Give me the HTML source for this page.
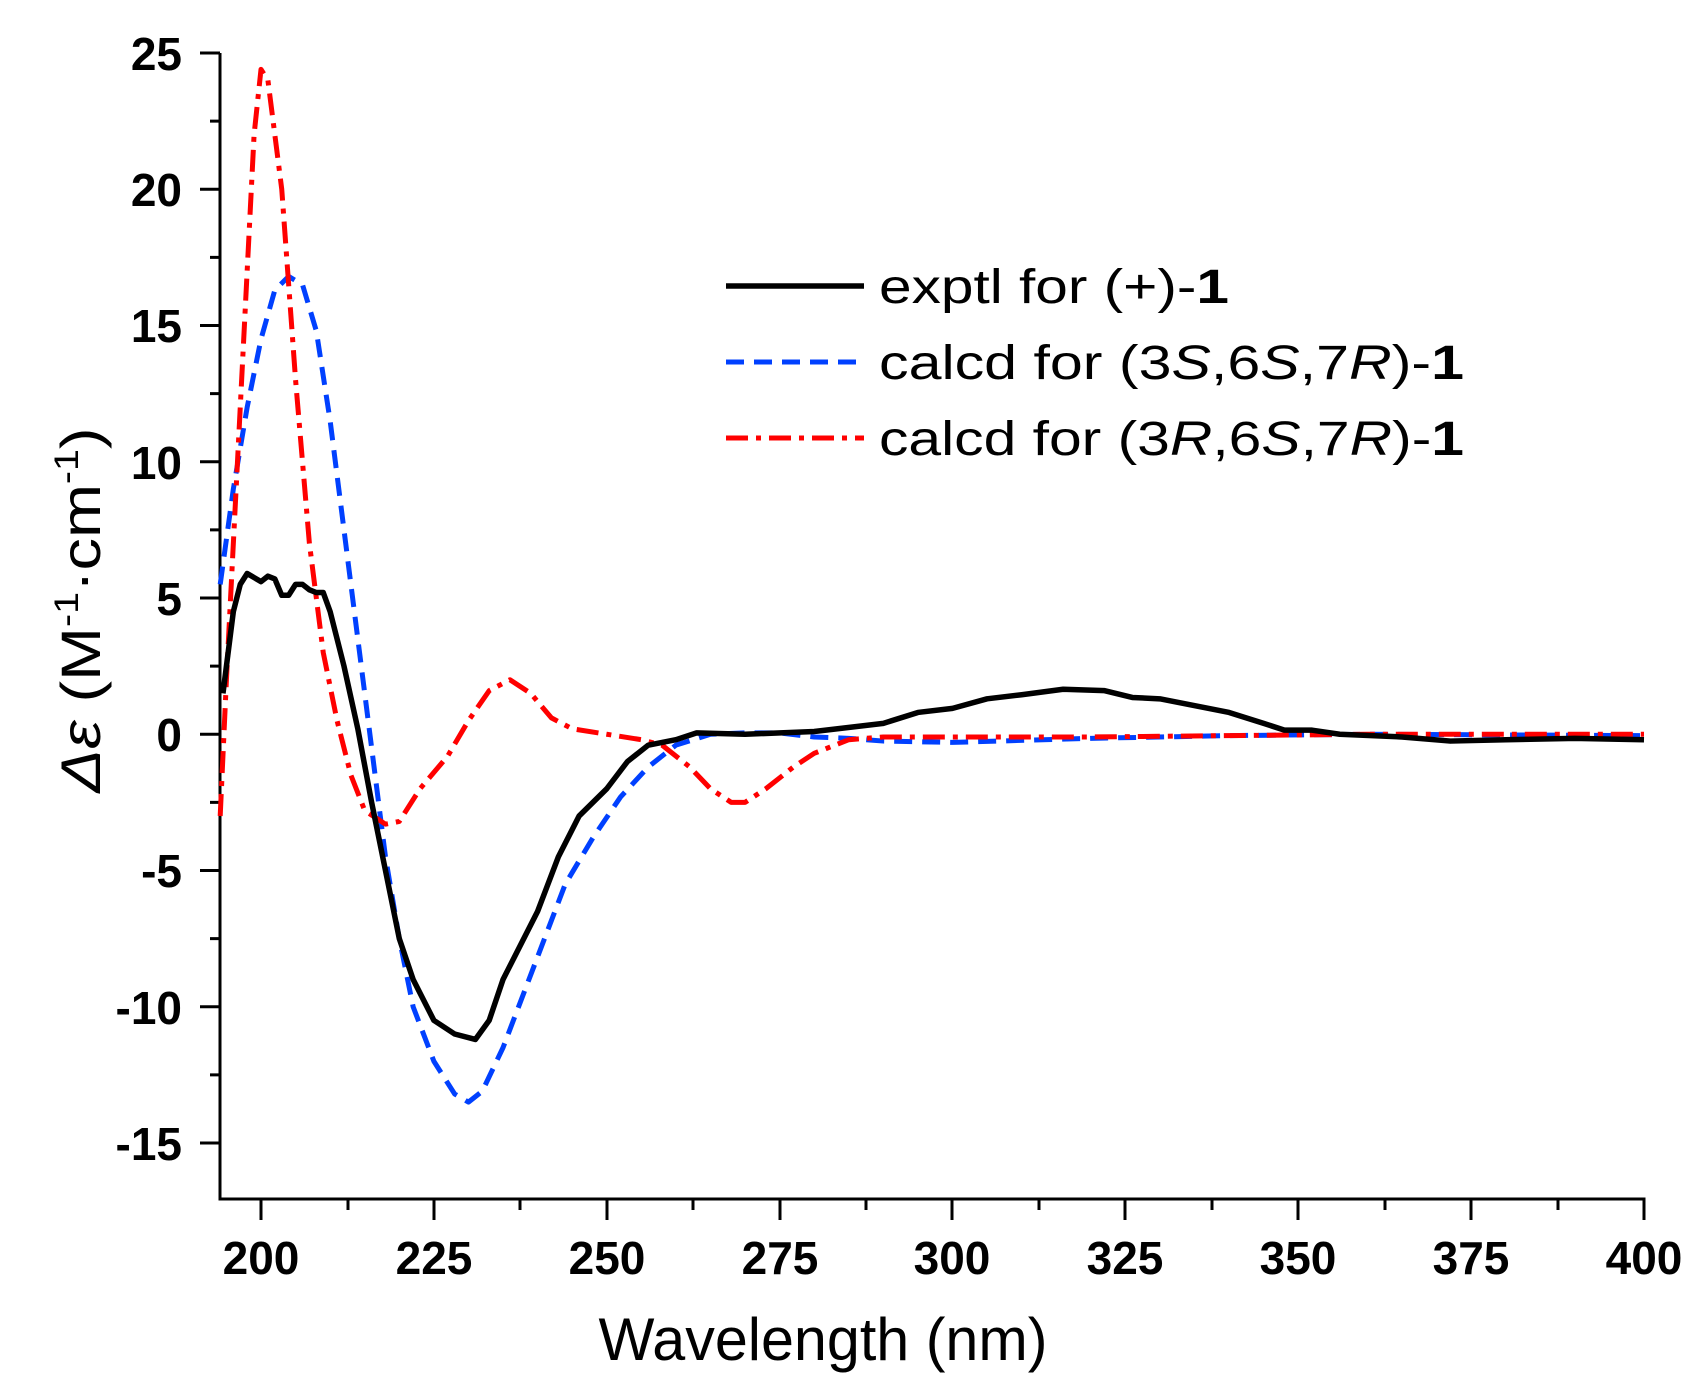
<!DOCTYPE html>
<html><head><meta charset="utf-8"><style>
html,body{margin:0;padding:0;background:#fff;}
svg{display:block;}
text{font-family:"Liberation Sans",Arial,sans-serif;fill:#000;}
</style></head><body>
<svg width="1699" height="1386" viewBox="0 0 1699 1386" xmlns="http://www.w3.org/2000/svg">
<g stroke="#000" stroke-width="3" fill="none">
<path d="M220,53 V1199 H1644 V1220"/>
<path d="M200,53H220M200,189.3H220M200,325.5H220M200,461.8H220M200,598H220M200,734.3H220M200,870.5H220M200,1006.8H220M200,1143H220"/>
<path d="M210,121.1H220M210,257.4H220M210,393.6H220M210,529.9H220M210,666.1H220M210,802.4H220M210,938.6H220M210,1074.9H220"/>
<path d="M261,1199V1220M434,1199V1220M607,1199V1220M780,1199V1220M952,1199V1220M1125,1199V1220M1298,1199V1220M1471,1199V1220"/>
<path d="M348,1199V1210M520,1199V1210M693,1199V1210M866,1199V1210M1039,1199V1210M1212,1199V1210M1385,1199V1210M1558,1199V1210"/>
</g>
<g font-size="46" font-weight="bold" text-anchor="end">
<text x="182" y="70">25</text><text x="182" y="206">20</text><text x="182" y="342">15</text>
<text x="182" y="479">10</text><text x="182" y="615">5</text><text x="182" y="751">0</text>
<text x="182" y="887">-5</text><text x="182" y="1024">-10</text><text x="182" y="1160">-15</text>
</g>
<g font-size="46" font-weight="bold" text-anchor="middle">
<text x="261" y="1274">200</text><text x="434" y="1274">225</text><text x="607" y="1274">250</text>
<text x="780" y="1274">275</text><text x="952" y="1274">300</text><text x="1125" y="1274">325</text>
<text x="1298" y="1274">350</text><text x="1471" y="1274">375</text><text x="1644" y="1274">400</text>
</g>
<text x="823" y="1360" font-size="60" text-anchor="middle" textLength="449" lengthAdjust="spacingAndGlyphs">Wavelength (nm)</text>
<text transform="translate(100,610) rotate(-90)" font-size="56" text-anchor="middle" textLength="365" lengthAdjust="spacingAndGlyphs"><tspan font-style="italic">Δε</tspan> (M<tspan font-size="34" dy="-22">-1</tspan><tspan dy="22">·cm</tspan><tspan font-size="34" dy="-22">-1</tspan><tspan dy="22">)</tspan></text>

<g transform="matrix(6.915 0 0 -27.25 -1122 734.25)" fill="none" stroke-linejoin="round">
<polyline vector-effect="non-scaling-stroke" stroke="#0040ff" stroke-width="5" stroke-dasharray="18 10" points="194.1,5.5 196,9 198,12 200,14.5 202,16.3 204,16.8 206,16.5 208,14.8 210,11.5 212,7.5 214,3.5 216,-0.5 218,-4.5 220,-7.5 222,-10 225,-12 228,-13.2 230,-13.5 232,-13.1 235,-11.5 238,-9.5 241,-7.5 244,-5.5 248,-3.8 252,-2.3 256,-1.2 260,-0.4 265,0 270,0.05 275,0.05 280,-0.1 285,-0.15 290,-0.25 300,-0.3 320,-0.15 340,-0.05 360,0 400,-0.05"/>
<polyline vector-effect="non-scaling-stroke" stroke="#ff0000" stroke-width="5" stroke-dasharray="22 8 5 8" points="194.1,-3 195,2 197,12 199,22 200,24.4 201,24 203,20 205,13 207,7 209,3 211,0.5 213,-1.5 215,-2.8 218,-3.3 220,-3.2 223,-2 227,-0.8 230,0.5 233,1.6 236,2 239,1.5 242,0.6 245,0.2 250,0 255,-0.2 258,-0.4 262,-1.2 265,-2 268,-2.5 270,-2.5 273,-2 277,-1.2 280,-0.7 285,-0.2 290,-0.1 300,-0.1 320,-0.1 360,0 400,0"/>
<polyline vector-effect="non-scaling-stroke" stroke="#000" stroke-width="5.5" points="194.5,1.5 196,4.5 197,5.5 198,5.9 200,5.6 201,5.8 202,5.7 203,5.1 204,5.1 205,5.5 206,5.5 207,5.3 208,5.2 209,5.2 210,4.5 212,2.5 214,0.2 216,-2.5 218,-5 220,-7.5 222,-9 225,-10.5 228,-11 231,-11.2 233,-10.5 235,-9 237,-8 240,-6.5 243,-4.5 246,-3 250,-2 253,-1 256,-0.4 260,-0.2 263,0.05 270,0 280,0.1 290,0.4 295,0.8 300,0.95 305,1.3 310,1.45 316,1.65 322,1.6 326,1.35 330,1.3 340,0.8 345,0.4 348,0.15 352,0.15 356,0 365,-0.1 372,-0.25 380,-0.2 390,-0.15 400,-0.2"/>
</g>

<line x1="726" y1="286" x2="864" y2="286" stroke="#000" stroke-width="5.5"/>
<line x1="726" y1="362" x2="864" y2="362" stroke="#0040ff" stroke-width="5" stroke-dasharray="18 10"/>
<line x1="726" y1="438" x2="864" y2="438" stroke="#ff0000" stroke-width="5" stroke-dasharray="22 8 5 8"/>
<g font-size="48">
<text x="879" y="303" textLength="350" lengthAdjust="spacingAndGlyphs">exptl for (+)-<tspan font-weight="bold">1</tspan></text>
<text x="879" y="379" textLength="585" lengthAdjust="spacingAndGlyphs">calcd for (3<tspan font-style="italic">S</tspan>,6<tspan font-style="italic">S</tspan>,7<tspan font-style="italic">R</tspan>)-<tspan font-weight="bold">1</tspan></text>
<text x="879" y="455" textLength="585" lengthAdjust="spacingAndGlyphs">calcd for (3<tspan font-style="italic">R</tspan>,6<tspan font-style="italic">S</tspan>,7<tspan font-style="italic">R</tspan>)-<tspan font-weight="bold">1</tspan></text>
</g>
</svg>
</body></html>
